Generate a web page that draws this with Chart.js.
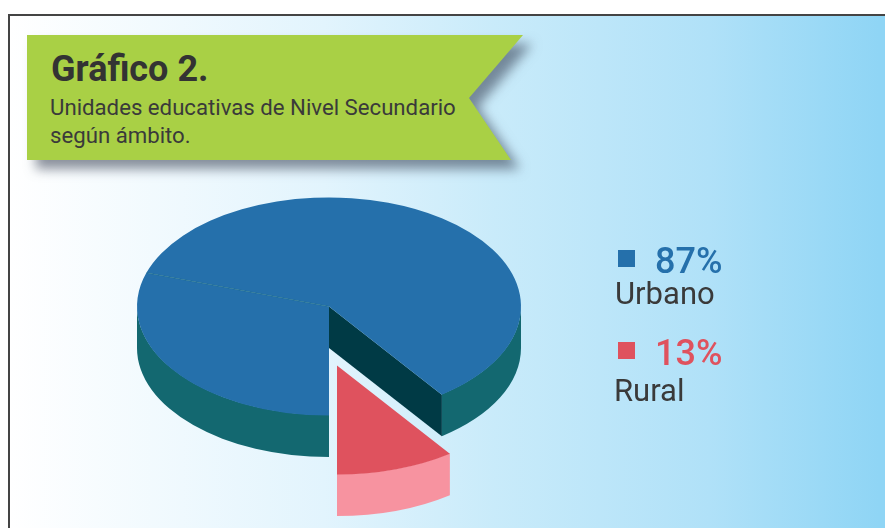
<!DOCTYPE html>
<html lang="es">
<head>
<meta charset="utf-8">
<title>Gráfico 2</title>
<script src="https://cdn.jsdelivr.net/npm/chart.js@4"></script>
<style>
html,body{margin:0;padding:0;background:#fff;overflow:hidden}
#stage{position:relative;width:885px;height:528px;overflow:hidden;font-family:Roboto,sans-serif;color:#3a3a3a}
#panel{position:absolute;left:8px;top:14px;width:900px;height:540px;box-sizing:border-box;border:2px solid #444;
 background:linear-gradient(90deg,#fff 0%,#e2f4fd 35%,#c9ebfa 54%,#b0e1f8 78%,#8fd5f5 97%)}
canvas{position:absolute;left:0;top:0}
#ribbonShadow{position:absolute;left:0;top:0;width:885px;height:528px;filter:drop-shadow(9px 9px 6px rgba(45,55,75,.55))}
#ribbon{position:absolute;left:27px;top:35px;width:496px;height:125px;background:#a9d045;
 clip-path:polygon(0 0,100% 0,442px 63px,484px 100%,0 100%)}
.t{position:absolute;white-space:nowrap;line-height:1}
#title{left:51px;top:51px;font-size:36px;font-weight:700;color:#333;font-variant-ligatures:common-ligatures}
.sub{font-size:22.2px;left:50px}
.sq{position:absolute;left:618px;width:17px;height:17px}
.pct{font-size:36px;font-weight:500;left:655px}
.name{font-size:31px;color:#3a3a3a}
</style>
</head>
<body>
<div id="stage">
  <div id="panel"></div>
  <div id="ribbonShadow"><div id="ribbon"></div></div>
  <div class="t" id="title">Gráfico 2.</div>
  <div class="t sub" style="top:96px">Unidades educativas de Nivel Secundario</div>
  <div class="t sub" style="top:124px">según ámbito.</div>
  <canvas id="c" width="885" height="528"></canvas>
  <div id="legend"></div>
</div>
<script>
// Printed legend values.
const legendNames = ['Urbano', 'Rural'];
const legendPercents = [87, 13];
// Slice sizes as the wedges are actually drawn in the picture (they differ from the printed percentages).
const sliceLabels = ['Rural', 'Urbano', 'Urbano'];
const sliceValues = [10, 30, 60];

const BLUE = '#2570ab', TEAL = '#136870', WALL = '#003a45', RED = '#df525e', PINK = '#f793a0';
const sliceColors = [RED, BLUE, BLUE];
const sideColors = [PINK, TEAL, TEAL];
const K = 0.568, DEPTH = 41.5, SHIFT = {x: 8, y: 59};

const legendColors = [BLUE, RED];
const legendTops = [{sq: 250, pct: 243, name: 278}, {sq: 342, pct: 335, name: 375}];
const nameLeft = [615, 614];
document.getElementById('legend').innerHTML = legendNames.map((n, i) =>
  `<div class="sq" style="top:${legendTops[i].sq}px;background:${legendColors[i]}"></div>` +
  `<div class="t pct" style="top:${legendTops[i].pct}px;color:${legendColors[i]}">${legendPercents[i]}%</div>` +
  `<div class="t name" style="top:${legendTops[i].name}px;left:${nameLeft[i]}px">${n}</div>`).join('');

const pie3d = {
  id: 'pie3d',
  beforeDatasetsDraw(chart) {
    const ctx = chart.ctx, arcs = chart.getDatasetMeta(0).data;
    const side = (arc, i) => {
      const {x, y, startAngle: s, endAngle: e, outerRadius: r} = arc.getProps(['x','y','startAngle','endAngle','outerRadius']);
      ctx.fillStyle = sideColors[i];
      [[0, Math.PI], [2 * Math.PI, 3 * Math.PI]].forEach(([lo, hi]) => {
        const a = Math.max(s, lo), b = Math.min(e, hi);
        if (b <= a) return;
        ctx.beginPath();
        ctx.ellipse(x, y + DEPTH, r, r * K, 0, a, b);
        ctx.ellipse(x, y - 0.5, r, r * K, 0, b, a, true);
        ctx.closePath();
        ctx.fill();
      });
    };
    const top = (arc) => {
      ctx.save();
      ctx.translate(arc.x, arc.y);
      ctx.scale(1, K);
      ctx.translate(-arc.x, -arc.y);
      arc.draw(ctx);
      ctx.restore();
    };
    // Urbano: sides, cut wall, top
    side(arcs[1], 1); side(arcs[2], 2);
    const last = arcs[2], ang = last.endAngle, r = last.outerRadius;
    const px = last.x + Math.cos(ang) * r, py = last.y + Math.sin(ang) * r * K;
    ctx.fillStyle = WALL;
    ctx.beginPath();
    ctx.moveTo(last.x, last.y); ctx.lineTo(px, py); ctx.lineTo(px, py + DEPTH); ctx.lineTo(last.x, last.y + DEPTH);
    ctx.closePath(); ctx.fill();
    top(arcs[1]); top(arcs[2]);
    // faint seam between the two blue wedges
    const sa = arcs[2].startAngle;
    ctx.strokeStyle = 'rgba(19,104,112,.55)'; ctx.lineWidth = 0.8;
    ctx.beginPath();
    ctx.moveTo(last.x, last.y);
    ctx.lineTo(last.x + Math.cos(sa) * r, last.y + Math.sin(sa) * r * K);
    ctx.stroke();
    // Rural: detached wedge
    ctx.save();
    ctx.translate(SHIFT.x, SHIFT.y);
    side(arcs[0], 0);
    top(arcs[0]);
    ctx.restore();
    return false;
  }
};

new Chart(document.getElementById('c'), {
  type: 'pie',
  data: {
    labels: sliceLabels,
    datasets: [{data: sliceValues, backgroundColor: sliceColors, borderWidth: 0}]
  },
  options: {
    responsive: false,
    animation: false,
    rotation: 144,
    layout: {padding: {left: 137, right: 364, top: 114.5, bottom: 29.5}},
    plugins: {legend: {display: false}, tooltip: {enabled: false}, title: {display: false}}
  },
  plugins: [pie3d]
});
</script>
</body>
</html>
